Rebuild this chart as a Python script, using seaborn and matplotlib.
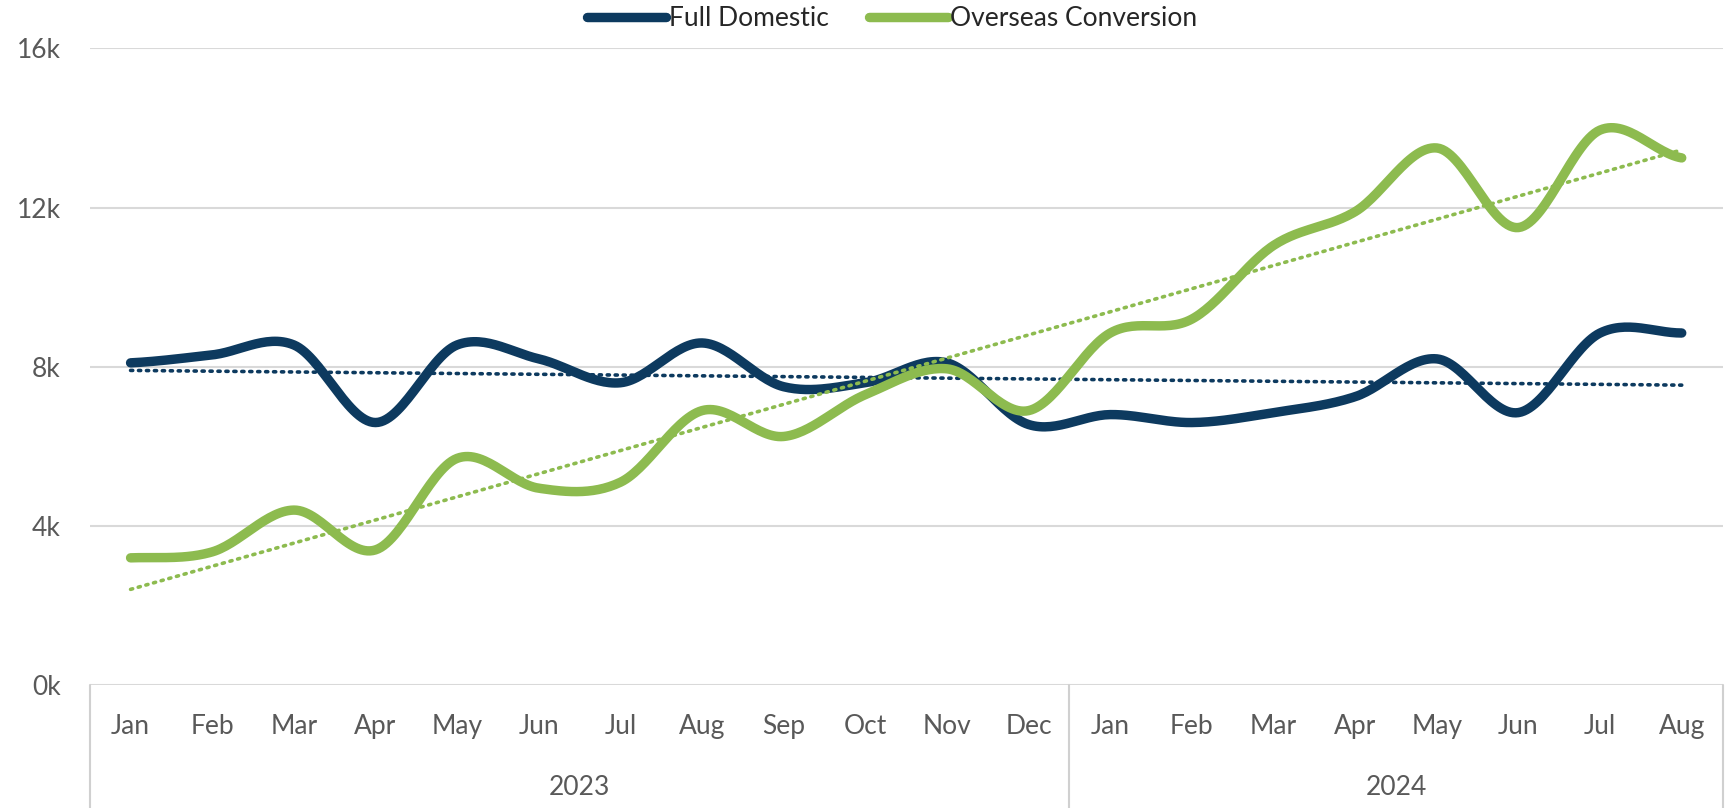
import numpy as np
import pandas as pd
import seaborn as sns
import matplotlib.pyplot as plt
from matplotlib.transforms import blended_transform_factory

months = ['Jan', 'Feb', 'Mar', 'Apr', 'May', 'Jun', 'Jul', 'Aug', 'Sep', 'Oct', 'Nov', 'Dec',
          'Jan', 'Feb', 'Mar', 'Apr', 'May', 'Jun', 'Jul', 'Aug']
years = ['2023', '2024']
year_lengths = [12, 8]
full_domestic = [8100, 8300, 8550, 6600, 8550, 8200, 7600, 8600, 7500, 7600, 8100, 6550,
                 6800, 6600, 6850, 7250, 8200, 6850, 8850, 8850]
overseas_conversion = [3200, 3350, 4400, 3400, 5700, 4950, 5100, 6900, 6250, 7300, 7950, 6900,
                       8850, 9200, 11050, 11900, 13500, 11500, 13950, 13250]

navy = '#0D3A5F'
green = '#8DBB4F'
grey_text = '#595959'
fs = 19


def smooth(y, steps=30):
    # Catmull-Rom through each point, like Excel's "smoothed line"
    y = np.asarray(y, dtype=float)
    p = np.concatenate([[y[0]], y, [y[-1]]])
    xs, ys = [], []
    for i in range(len(y) - 1):
        p0, p1, p2, p3 = p[i], p[i + 1], p[i + 2], p[i + 3]
        t = np.linspace(0, 1, steps, endpoint=False)
        v = 0.5 * (2 * p1 + (-p0 + p2) * t + (2 * p0 - 5 * p1 + 4 * p2 - p3) * t ** 2
                   + (-p0 + 3 * p1 - 3 * p2 + p3) * t ** 3)
        xs.append(i + t)
        ys.append(v)
    xs.append([len(y) - 1])
    ys.append([y[-1]])
    return np.concatenate(xs), np.concatenate(ys)


sns.set_theme(style='white')
plt.rcParams['font.family'] = ['Lato', 'DejaVu Sans']

fig = plt.figure(figsize=(17.26, 8.08), dpi=100)
ax = fig.add_axes([0.052, 0.152, 0.946, 0.788])

x = np.arange(len(months))
for name, vals, col in [('Full Domestic', full_domestic, navy),
                        ('Overseas Conversion', overseas_conversion, green)]:
    sx, sy = smooth(vals)
    df = pd.DataFrame({'x': sx, 'y': sy})
    sns.lineplot(data=df, x='x', y='y', ax=ax, color=col, linewidth=6.8,
                 label=name, solid_capstyle='round', sort=False)
    # linear trendline
    k, b = np.polyfit(x, vals, 1)
    tdf = pd.DataFrame({'x': x, 'y': k * x + b})
    sns.lineplot(data=tdf, x='x', y='y', ax=ax, color=col, linewidth=2.6,
                 linestyle=(0, (0.6, 1.6)), dash_capstyle='round', legend=False)

ax.set_xlim(-0.5, len(months) - 0.5)
ax.set_ylim(0, 16000)
ax.set_yticks([0, 4000, 8000, 12000, 16000])
ax.set_yticklabels(['0k', '4k', '8k', '12k', '16k'])
ax.tick_params(axis='y', length=0, pad=21, labelsize=fs, labelcolor=grey_text)
ax.set_xticks([])
ax.set_xlabel('')
ax.set_ylabel('')
ax.yaxis.grid(True, color='#D9D9D9', linewidth=1.5)
ax.set_axisbelow(True)
for s in ax.spines.values():
    s.set_visible(False)

# category axis with year groups
tr = blended_transform_factory(ax.transData, fig.transFigure)
for i, m in enumerate(months):
    ax.text(i, 0.101, m, transform=tr, ha='center', va='center', fontsize=fs, color=grey_text)
start = 0
bounds = [-0.5]
for yr, n in zip(years, year_lengths):
    ax.text(start + (n - 1) / 2, 0.025, yr, transform=tr, ha='center', va='center',
            fontsize=fs, color=grey_text)
    start += n
    bounds.append(start - 0.5)
for bx in bounds:
    ax.plot([bx, bx], [0, 0.152], transform=tr, color='#D0D0D0', linewidth=1.5, clip_on=False)

leg = ax.legend(loc='center', bbox_to_anchor=(0.517, 0.977), bbox_transform=fig.transFigure,
                ncol=2, frameon=False, fontsize=fs, handlelength=3.0, handletextpad=0.1,
                columnspacing=1.5)
for t in leg.get_texts():
    t.set_color('#262626')

fig.savefig('out.png', dpi=100)
